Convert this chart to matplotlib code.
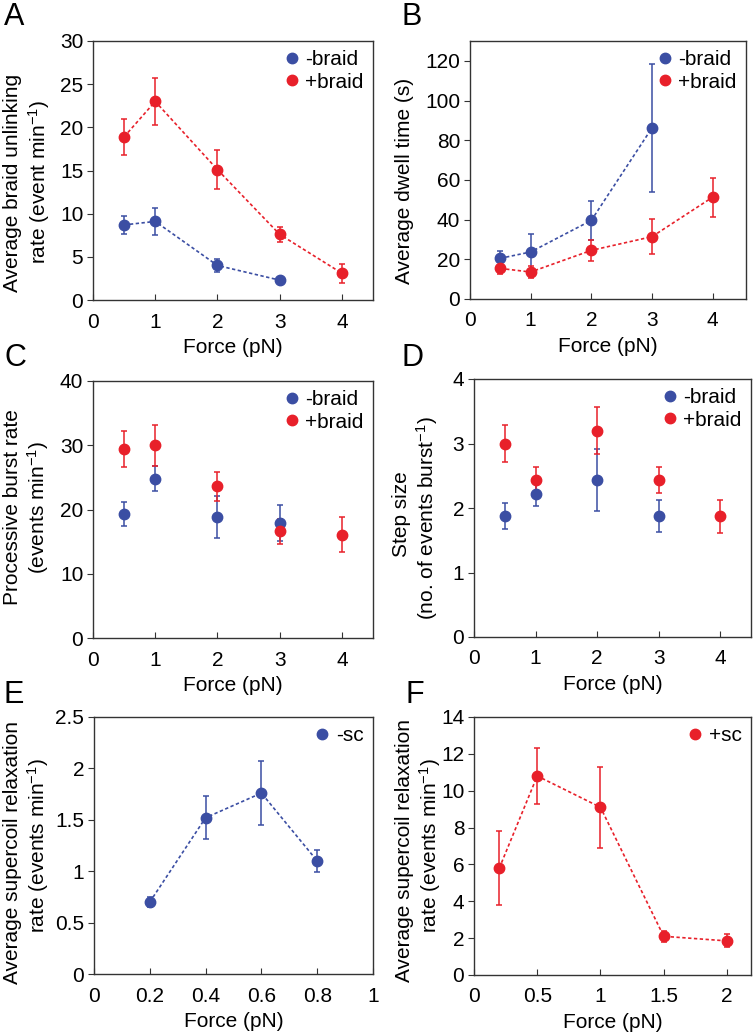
import matplotlib
matplotlib.use("Agg")
import matplotlib.pyplot as plt
from matplotlib.lines import Line2D

plt.rcParams["font.family"] = ["Liberation Sans", "DejaVu Sans"]
plt.rcParams["mathtext.fontset"] = "custom"
plt.rcParams["mathtext.rm"] = "Liberation Sans"
plt.rcParams["mathtext.default"] = "regular"

BLUE = "#3b4ea3"
RED = "#e8202a"

# A: braid unlinking rate
a_force_minus = [0.5, 1, 2, 3]
a_rate_minus = [8.7, 9.1, 4.0, 2.3]
a_err_minus = [1.0, 1.6, 0.8, 0.15]
a_force_plus = [0.5, 1, 2, 3, 4]
a_rate_plus = [18.9, 23.0, 15.1, 7.6, 3.1]
a_err_plus = [2.1, 2.7, 2.3, 0.9, 1.1]

# B: dwell time
b_force_minus = [0.5, 1, 2, 3]
b_dwell_minus = [20.5, 23.7, 39.6, 86.2]
b_err_minus = [3.7, 9.0, 10.0, 32.4]
b_force_plus = [0.5, 1, 2, 3, 4]
b_dwell_plus = [15.4, 13.6, 24.5, 31.4, 51.3]
b_err_plus = [3.0, 3.0, 5.2, 8.9, 9.8]

# C: processive burst rate
c_force_minus = [0.5, 1, 2, 3]
c_burst_minus = [19.3, 24.8, 18.8, 17.9]
c_err_minus = [1.8, 1.9, 3.3, 2.8]
c_force_plus = [0.5, 1, 2, 3, 4]
c_burst_plus = [29.4, 30.0, 23.6, 16.6, 16.1]
c_err_plus = [2.8, 3.2, 2.3, 1.9, 2.7]

# D: step size
d_force_minus = [0.5, 1, 2, 3]
d_step_minus = [1.88, 2.21, 2.43, 1.88]
d_err_minus = [0.2, 0.18, 0.48, 0.25]
d_force_plus = [0.5, 1, 2, 3, 4]
d_step_plus = [3.0, 2.44, 3.2, 2.44, 1.87]
d_err_plus = [0.28, 0.2, 0.37, 0.2, 0.26]

# E: -sc relaxation
e_force = [0.2, 0.4, 0.6, 0.8]
e_rate = [0.70, 1.52, 1.76, 1.10]
e_err = [0.05, 0.21, 0.31, 0.11]

# F: +sc relaxation
f_force = [0.2, 0.5, 1.0, 1.5, 2.0]
f_rate = [5.8, 10.8, 9.1, 2.1, 1.85]
f_err = [2.0, 1.53, 2.2, 0.3, 0.35]

W, H = 756, 1033
fig = plt.figure(figsize=(W / 100, H / 100), dpi=100)
FS = 15


def make_ax(l, r, t, b):
    return fig.add_axes([l / W, 1 - b / H, (r - l) / W, (b - t) / H])


def style(ax, xlim, xticks, ylim, yticks, xlabels=None, ylabels=None):
    ax.set_xlim(*xlim)
    ax.set_ylim(*ylim)
    ax.set_xticks(xticks)
    ax.set_yticks(yticks)
    if xlabels is not None:
        ax.set_xticklabels(xlabels)
    if ylabels is not None:
        ax.set_yticklabels(ylabels)
    ax.tick_params(axis="x", direction="in", length=4, labelsize=FS, pad=9, color="#333333")
    ax.tick_params(axis="y", direction="out", length=4, labelsize=FS, pad=3, color="#333333")
    for s in ax.spines.values():
        s.set_color("#333333")
        s.set_linewidth(1.0)
    ax.set_xlabel("Force (pN)", fontsize=FS, labelpad=5)


def ylabel(lines):
    # each line: (text, baseline x px, centre y px)
    for s, x, y in lines:
        fig.text(x / W, 1 - y / H, s, fontsize=FS, rotation=90,
                 rotation_mode="anchor", ha="center", va="baseline")


def series(ax, x, y, err, color, line=True):
    ax.errorbar(x, y, yerr=err, fmt="o", color=color, ms=7.5, capsize=2.3,
                elinewidth=1.1, capthick=1.1, zorder=3)
    if line:
        ax.plot(x, y, ls=(0, (2, 1.5)), color=color, lw=1.2, zorder=2)


def legend(ax, entries):
    handles = [Line2D([], [], ls="none", marker="o", ms=7.5, color=c) for c, _ in entries]
    ax.legend(handles, [t for _, t in entries], loc="upper right", frameon=False,
              fontsize=FS, handletextpad=0.1, handlelength=1.1,
              borderaxespad=0.15, borderpad=0.3, labelspacing=0.15)


def letter(x, y, s):
    fig.text(x / W, 1 - y / H, s, fontsize=22, va="top", ha="left")


braid = [(BLUE, "-braid"), (RED, "+braid")]

axA = make_ax(93, 373, 41, 300)
series(axA, a_force_minus, a_rate_minus, a_err_minus, BLUE)
series(axA, a_force_plus, a_rate_plus, a_err_plus, RED)
style(axA, (0, 4.5), [0, 1, 2, 3, 4], (0, 30), range(0, 31, 5))
legend(axA, braid)
ylabel([("Average braid unlinking", 18, 183),
        ("rate (event min$^{-1}$)", 46, 182)])

axB = make_ax(470, 746, 41, 299)
series(axB, b_force_minus, b_dwell_minus, b_err_minus, BLUE)
series(axB, b_force_plus, b_dwell_plus, b_err_plus, RED)
style(axB, (0, 4.55), [0, 1, 2, 3, 4], (0, 130), range(0, 121, 20))
legend(axB, braid)
ylabel([("Average dwell time (s)", 410, 181)])

axC = make_ax(93, 373, 381, 638)
series(axC, c_force_minus, c_burst_minus, c_err_minus, BLUE, line=False)
series(axC, c_force_plus, c_burst_plus, c_err_plus, RED, line=False)
style(axC, (0, 4.5), [0, 1, 2, 3, 4], (0, 40), range(0, 41, 10))
legend(axC, braid)
ylabel([("Processive burst rate", 18, 507),
        ("(events min$^{-1}$)", 45, 508)])

axD = make_ax(474, 751, 379, 637)
series(axD, d_force_minus, d_step_minus, d_err_minus, BLUE, line=False)
series(axD, d_force_plus, d_step_plus, d_err_plus, RED, line=False)
style(axD, (0, 4.5), [0, 1, 2, 3, 4], (0, 4), range(0, 5))
legend(axD, braid)
ylabel([("Step size", 407, 514),
        ("(no. of events burst$^{-1}$)", 434, 518)])

axE = make_ax(94, 373, 717, 974)
series(axE, e_force, e_rate, e_err, BLUE)
style(axE, (0, 1), [0, 0.2, 0.4, 0.6, 0.8, 1], (0, 2.5), [0, 0.5, 1, 1.5, 2, 2.5],
      xlabels=["0", "0.2", "0.4", "0.6", "0.8", "1"],
      ylabels=["0", "0.5", "1", "1.5", "2", "2.5"])
legend(axE, [(BLUE, "-sc")])
ylabel([("Average supercoil relaxation", 18, 852),
        ("rate (events min$^{-1}$)", 45, 846)])

axF = make_ax(474, 751, 717, 975)
series(axF, f_force, f_rate, f_err, RED)
style(axF, (0, 2.19), [0, 0.5, 1, 1.5, 2], (0, 14), range(0, 15, 2),
      xlabels=["0", "0.5", "1", "1.5", "2"])
legend(axF, [(RED, "+sc")])
ylabel([("Average supercoil relaxation", 410, 851),
        ("rate (events min$^{-1}$)", 437, 846)])

letter(4, 2, "A")
letter(402, 2, "B")
letter(4, 343, "C")
letter(402, 343, "D")
letter(4, 680, "E")
letter(405, 680, "F")

fig.savefig("out.png", dpi=100)
